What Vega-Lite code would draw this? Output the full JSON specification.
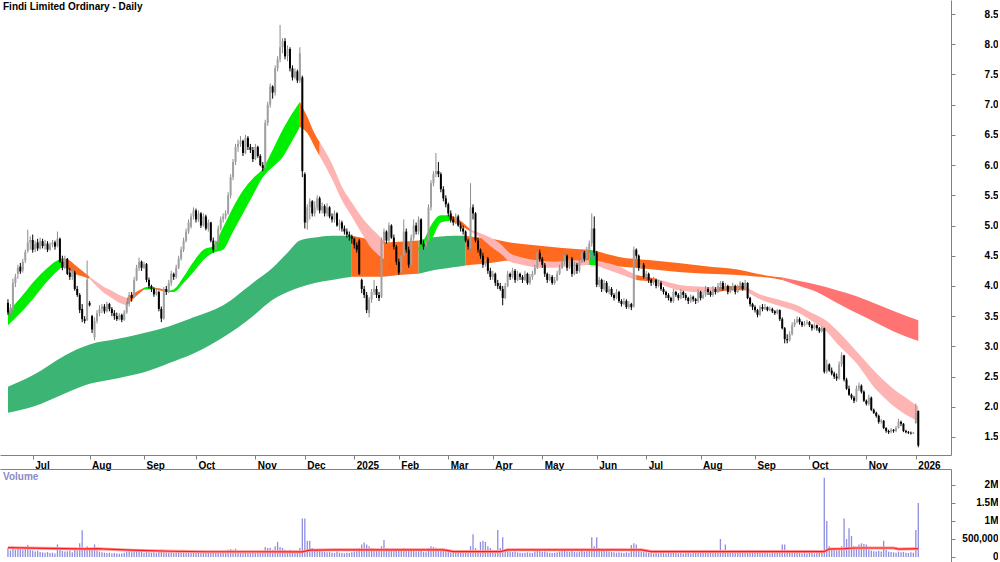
{
"$schema":"https://vega.github.io/schema/vega-lite/v6.json",
"padding":0,
"background":"white",
"spacing":14,
"bounds":"flush",
"config":{"view":{"stroke":null},"font":"Liberation Sans","axis":{"labelFont":"Liberation Sans","labelFontWeight":"bold","labelFontSize":10,"labelColor":"#000000","domainColor":"#808080","tickColor":"#808080","grid":false,"title":null,"labelOverlap":false,"labelBound":false,"labelFlush":false},"axisY":{"labelOverlap":false},"axisRight":{"labelOverlap":false}},
"datasets":{
"p":[
{"i":0,"o":3.72,"h":3.78,"l":3.52,"c":3.56,"v":260},{"i":1,"o":3.56,"h":3.7,"l":3.5,"c":3.64,"v":180},{"i":2,"o":3.6,"h":4.12,"l":3.55,"c":4.05,"v":300},{"i":3,"o":4.05,"h":4.2,"l":3.98,"c":4.15,"v":200},{"i":4,"o":4.2,"h":4.35,"l":4.12,"c":4.3,"v":250},{"i":5,"o":4.32,"h":4.38,"l":4.2,"c":4.24,"v":220},{"i":6,"o":4.26,"h":4.45,"l":4.22,"c":4.4,"v":200},{"i":7,"o":4.42,"h":4.6,"l":4.38,"c":4.56,"v":240},{"i":8,"o":4.58,"h":4.93,"l":4.55,"c":4.72,"v":330},{"i":9,"o":4.72,"h":4.82,"l":4.6,"c":4.76,"v":200},
{"i":10,"o":4.76,"h":4.85,"l":4.55,"c":4.6,"v":180},{"i":11,"o":4.6,"h":4.75,"l":4.56,"c":4.7,"v":150},{"i":12,"o":4.72,"h":4.78,"l":4.58,"c":4.62,"v":170},{"i":13,"o":4.62,"h":4.8,"l":4.6,"c":4.74,"v":140},{"i":14,"o":4.74,"h":4.78,"l":4.62,"c":4.66,"v":130},{"i":15,"o":4.66,"h":4.76,"l":4.6,"c":4.7,"v":120},{"i":16,"o":4.7,"h":4.74,"l":4.56,"c":4.6,"v":140},{"i":17,"o":4.6,"h":4.72,"l":4.58,"c":4.68,"v":110},{"i":18,"o":4.68,"h":4.76,"l":4.64,"c":4.72,"v":120},{"i":19,"o":4.72,"h":4.75,"l":4.6,"c":4.65,"v":100},
{"i":20,"o":4.66,"h":4.9,"l":4.64,"c":4.78,"v":350},{"i":21,"o":4.78,"h":4.8,"l":4.38,"c":4.4,"v":200},{"i":22,"o":4.4,"h":4.5,"l":4.26,"c":4.3,"v":170},{"i":23,"o":4.3,"h":4.5,"l":4.28,"c":4.45,"v":150},{"i":24,"o":4.45,"h":4.46,"l":4.18,"c":4.2,"v":160},{"i":25,"o":4.22,"h":4.3,"l":4.1,"c":4.15,"v":180},{"i":26,"o":4.15,"h":4.3,"l":4.1,"c":4.25,"v":130},{"i":27,"o":4.22,"h":4.25,"l":3.92,"c":3.95,"v":200},{"i":28,"o":3.95,"h":4.0,"l":3.82,"c":3.85,"v":180},{"i":29,"o":3.85,"h":3.88,"l":3.55,"c":3.6,"v":380},
{"i":30,"o":3.62,"h":3.7,"l":3.4,"c":3.45,"v":740},{"i":31,"o":3.45,"h":3.5,"l":3.38,"c":3.42,"v":250},{"i":32,"o":3.44,"h":4.42,"l":3.42,"c":4.1,"v":300},{"i":33,"o":3.72,"h":3.75,"l":3.66,"c":3.68,"v":200},{"i":34,"o":3.5,"h":3.52,"l":3.22,"c":3.28,"v":220},{"i":35,"o":3.15,"h":3.48,"l":3.1,"c":3.42,"v":350},{"i":36,"o":3.42,"h":3.6,"l":3.38,"c":3.55,"v":180},{"i":37,"o":3.55,"h":3.68,"l":3.5,"c":3.62,"v":150},{"i":38,"o":3.62,"h":3.7,"l":3.55,"c":3.66,"v":130},{"i":39,"o":3.66,"h":3.7,"l":3.54,"c":3.58,"v":120},
{"i":40,"o":3.58,"h":3.74,"l":3.56,"c":3.7,"v":110},{"i":41,"o":3.7,"h":3.72,"l":3.58,"c":3.62,"v":120},{"i":42,"o":3.62,"h":3.65,"l":3.5,"c":3.55,"v":100},{"i":43,"o":3.55,"h":3.6,"l":3.44,"c":3.5,"v":110},{"i":44,"o":3.5,"h":3.56,"l":3.42,"c":3.45,"v":100},{"i":45,"o":3.45,"h":3.55,"l":3.43,"c":3.52,"v":90},{"i":46,"o":3.52,"h":3.54,"l":3.4,"c":3.44,"v":100},{"i":47,"o":3.44,"h":3.6,"l":3.42,"c":3.56,"v":120},{"i":48,"o":3.56,"h":3.74,"l":3.54,"c":3.7,"v":140},{"i":49,"o":3.7,"h":3.9,"l":3.66,"c":3.85,"v":150},
{"i":50,"o":3.85,"h":3.9,"l":3.74,"c":3.8,"v":130},{"i":51,"o":3.82,"h":4.15,"l":3.8,"c":4.1,"v":200},{"i":52,"o":4.1,"h":4.35,"l":4.08,"c":4.3,"v":180},{"i":53,"o":4.3,"h":4.47,"l":4.25,"c":4.4,"v":170},{"i":54,"o":4.4,"h":4.42,"l":4.25,"c":4.3,"v":150},{"i":55,"o":4.3,"h":4.4,"l":4.28,"c":4.36,"v":120},{"i":56,"o":4.36,"h":4.38,"l":4.06,"c":4.1,"v":140},{"i":57,"o":4.1,"h":4.14,"l":3.96,"c":4.0,"v":130},{"i":58,"o":4.0,"h":4.02,"l":3.9,"c":3.95,"v":120},{"i":59,"o":3.95,"h":3.98,"l":3.82,"c":3.86,"v":130},
{"i":60,"o":3.86,"h":3.96,"l":3.84,"c":3.92,"v":110},{"i":61,"o":3.9,"h":3.92,"l":3.58,"c":3.62,"v":150},{"i":62,"o":3.62,"h":3.66,"l":3.4,"c":3.46,"v":200},{"i":63,"o":3.46,"h":3.98,"l":3.44,"c":3.95,"v":170},{"i":64,"o":3.95,"h":4.0,"l":3.85,"c":3.9,"v":130},{"i":65,"o":3.9,"h":4.1,"l":3.88,"c":4.05,"v":120},{"i":66,"o":4.05,"h":4.25,"l":4.0,"c":4.2,"v":140},{"i":67,"o":4.2,"h":4.22,"l":4.1,"c":4.15,"v":110},{"i":68,"o":4.15,"h":4.35,"l":4.12,"c":4.3,"v":130},{"i":69,"o":4.3,"h":4.5,"l":4.28,"c":4.45,"v":150},
{"i":70,"o":4.45,"h":4.65,"l":4.42,"c":4.6,"v":160},{"i":71,"o":4.6,"h":4.8,"l":4.56,"c":4.75,"v":200},{"i":72,"o":4.75,"h":4.95,"l":4.72,"c":4.9,"v":180},{"i":73,"o":4.9,"h":5.1,"l":4.86,"c":5.05,"v":170},{"i":74,"o":4.98,"h":5.2,"l":4.95,"c":5.15,"v":150},{"i":75,"o":5.15,"h":5.3,"l":5.1,"c":5.25,"v":160},{"i":76,"o":5.25,"h":5.28,"l":5.05,"c":5.1,"v":130},{"i":77,"o":5.1,"h":5.25,"l":5.06,"c":5.2,"v":140},{"i":78,"o":5.2,"h":5.22,"l":4.96,"c":5.0,"v":120},{"i":79,"o":5.0,"h":5.2,"l":4.98,"c":5.15,"v":130},
{"i":80,"o":5.15,"h":5.18,"l":4.92,"c":4.95,"v":140},{"i":81,"o":4.95,"h":5.1,"l":4.9,"c":5.05,"v":110},{"i":82,"o":5.05,"h":5.06,"l":4.72,"c":4.75,"v":160},{"i":83,"o":4.75,"h":4.8,"l":4.55,"c":4.6,"v":170},{"i":84,"o":4.6,"h":4.75,"l":4.56,"c":4.7,"v":130},{"i":85,"o":4.72,"h":5.0,"l":4.7,"c":4.95,"v":150},{"i":86,"o":4.95,"h":5.15,"l":4.92,"c":5.1,"v":140},{"i":87,"o":5.1,"h":5.2,"l":5.05,"c":5.15,"v":120},{"i":88,"o":5.15,"h":5.25,"l":5.1,"c":5.2,"v":130},{"i":89,"o":5.2,"h":5.55,"l":5.18,"c":5.5,"v":200},
{"i":90,"o":5.5,"h":5.85,"l":5.45,"c":5.8,"v":220},{"i":91,"o":5.8,"h":6.1,"l":5.75,"c":6.05,"v":200},{"i":92,"o":6.05,"h":6.35,"l":6.0,"c":6.3,"v":230},{"i":93,"o":6.3,"h":6.42,"l":6.22,"c":6.35,"v":170},{"i":94,"o":6.35,"h":6.48,"l":6.3,"c":6.4,"v":160},{"i":95,"o":6.4,"h":6.42,"l":6.15,"c":6.2,"v":150},{"i":96,"o":6.2,"h":6.5,"l":6.18,"c":6.45,"v":160},{"i":97,"o":6.45,"h":6.48,"l":6.25,"c":6.3,"v":140},{"i":98,"o":6.3,"h":6.35,"l":6.2,"c":6.25,"v":120},{"i":99,"o":6.25,"h":6.3,"l":6.05,"c":6.1,"v":150},
{"i":100,"o":6.1,"h":6.35,"l":6.08,"c":6.3,"v":130},{"i":101,"o":6.3,"h":6.32,"l":6.12,"c":6.15,"v":120},{"i":102,"o":6.15,"h":6.18,"l":5.98,"c":6.0,"v":140},{"i":103,"o":6.0,"h":6.05,"l":5.9,"c":5.95,"v":160},{"i":104,"o":5.95,"h":6.75,"l":5.92,"c":6.7,"v":280},{"i":105,"o":6.7,"h":7.05,"l":6.65,"c":7.0,"v":250},{"i":106,"o":7.0,"h":7.35,"l":6.95,"c":7.3,"v":260},{"i":107,"o":7.3,"h":7.32,"l":7.1,"c":7.2,"v":200},{"i":108,"o":7.2,"h":7.65,"l":7.15,"c":7.6,"v":300},{"i":109,"o":7.6,"h":7.8,"l":7.55,"c":7.75,"v":420},
{"i":110,"o":7.75,"h":8.32,"l":7.7,"c":7.95,"v":280},{"i":111,"o":7.95,"h":8.1,"l":7.85,"c":8.05,"v":250},{"i":112,"o":8.05,"h":8.1,"l":7.75,"c":7.8,"v":200},{"i":113,"o":7.8,"h":7.98,"l":7.72,"c":7.92,"v":180},{"i":114,"o":7.92,"h":7.95,"l":7.55,"c":7.6,"v":200},{"i":115,"o":7.6,"h":7.65,"l":7.4,"c":7.45,"v":180},{"i":116,"o":7.45,"h":7.6,"l":7.42,"c":7.55,"v":150},{"i":117,"o":7.55,"h":7.58,"l":7.36,"c":7.4,"v":170},{"i":118,"o":7.4,"h":7.95,"l":7.36,"c":7.85,"v":250},{"i":119,"o":7.45,"h":7.48,"l":5.8,"c":5.9,"v":1070},
{"i":120,"o":5.85,"h":5.88,"l":4.95,"c":5.05,"v":1070},{"i":121,"o":5.05,"h":5.35,"l":4.93,"c":5.3,"v":450},{"i":122,"o":5.3,"h":5.45,"l":5.1,"c":5.4,"v":450},{"i":123,"o":5.4,"h":5.42,"l":5.15,"c":5.2,"v":250},{"i":124,"o":5.2,"h":5.4,"l":5.15,"c":5.3,"v":200},{"i":125,"o":5.3,"h":5.5,"l":5.25,"c":5.45,"v":180},{"i":126,"o":5.45,"h":5.48,"l":5.2,"c":5.25,"v":170},{"i":127,"o":5.25,"h":5.38,"l":5.2,"c":5.32,"v":150},{"i":128,"o":5.32,"h":5.35,"l":5.15,"c":5.2,"v":140},{"i":129,"o":5.2,"h":5.37,"l":5.15,"c":5.3,"v":130},
{"i":130,"o":5.3,"h":5.32,"l":5.12,"c":5.15,"v":140},{"i":131,"o":5.15,"h":5.2,"l":5.05,"c":5.1,"v":120},{"i":132,"o":5.1,"h":5.25,"l":5.05,"c":5.2,"v":110},{"i":133,"o":5.2,"h":5.22,"l":4.98,"c":5.0,"v":150},{"i":134,"o":5.0,"h":5.1,"l":4.92,"c":5.05,"v":120},{"i":135,"o":5.05,"h":5.08,"l":4.9,"c":4.95,"v":110},{"i":136,"o":4.95,"h":5.0,"l":4.85,"c":4.9,"v":100},{"i":137,"o":4.9,"h":4.95,"l":4.8,"c":4.85,"v":120},{"i":138,"o":4.85,"h":4.9,"l":4.75,"c":4.82,"v":110},{"i":139,"o":4.82,"h":4.85,"l":4.7,"c":4.78,"v":130},
{"i":140,"o":4.78,"h":4.8,"l":4.62,"c":4.68,"v":150},{"i":141,"o":4.68,"h":4.72,"l":4.55,"c":4.6,"v":160},{"i":142,"o":4.75,"h":4.78,"l":4.18,"c":4.2,"v":250},{"i":143,"o":4.1,"h":4.12,"l":3.88,"c":3.95,"v":350},{"i":144,"o":3.95,"h":4.0,"l":3.8,"c":3.85,"v":400},{"i":145,"o":3.85,"h":3.9,"l":3.55,"c":3.6,"v":350},{"i":146,"o":3.55,"h":3.82,"l":3.48,"c":3.78,"v":300},{"i":147,"o":3.78,"h":3.95,"l":3.72,"c":3.9,"v":250},{"i":148,"o":3.9,"h":4.1,"l":3.85,"c":3.95,"v":200},{"i":149,"o":3.95,"h":4.0,"l":3.8,"c":3.85,"v":180},
{"i":150,"o":3.85,"h":3.9,"l":3.75,"c":3.8,"v":170},{"i":151,"o":3.82,"h":4.8,"l":3.8,"c":4.75,"v":300},{"i":152,"o":4.75,"h":4.95,"l":4.7,"c":4.9,"v":470},{"i":153,"o":4.9,"h":4.92,"l":4.7,"c":4.75,"v":250},{"i":154,"o":4.75,"h":5.05,"l":4.72,"c":5.0,"v":220},{"i":155,"o":5.0,"h":5.02,"l":4.78,"c":4.8,"v":200},{"i":156,"o":4.8,"h":4.85,"l":4.6,"c":4.65,"v":180},{"i":157,"o":4.65,"h":4.68,"l":4.35,"c":4.4,"v":200},{"i":158,"o":4.4,"h":4.45,"l":4.18,"c":4.22,"v":220},{"i":159,"o":4.22,"h":4.55,"l":4.2,"c":4.5,"v":200},
{"i":160,"o":4.5,"h":5.1,"l":4.48,"c":4.9,"v":250},{"i":161,"o":4.9,"h":4.95,"l":4.55,"c":4.6,"v":180},{"i":162,"o":4.6,"h":4.65,"l":4.3,"c":4.35,"v":170},{"i":163,"o":4.35,"h":4.85,"l":4.3,"c":4.8,"v":200},{"i":164,"o":4.8,"h":5.1,"l":4.75,"c":5.0,"v":180},{"i":165,"o":5.0,"h":5.05,"l":4.85,"c":4.9,"v":150},{"i":166,"o":4.9,"h":5.15,"l":4.85,"c":5.1,"v":160},{"i":167,"o":5.1,"h":5.12,"l":4.68,"c":4.7,"v":170},{"i":168,"o":4.7,"h":4.75,"l":4.6,"c":4.65,"v":140},{"i":169,"o":4.65,"h":4.8,"l":4.62,"c":4.75,"v":130},
{"i":170,"o":4.75,"h":5.35,"l":4.72,"c":5.3,"v":250},{"i":171,"o":5.3,"h":5.75,"l":5.25,"c":5.7,"v":300},{"i":172,"o":5.7,"h":5.9,"l":5.65,"c":5.85,"v":280},{"i":173,"o":5.85,"h":6.2,"l":5.8,"c":5.9,"v":260},{"i":174,"o":5.9,"h":6.05,"l":5.8,"c":5.85,"v":200},{"i":175,"o":5.85,"h":5.88,"l":5.55,"c":5.6,"v":220},{"i":176,"o":5.6,"h":5.65,"l":5.4,"c":5.45,"v":200},{"i":177,"o":5.45,"h":5.5,"l":5.3,"c":5.35,"v":180},{"i":178,"o":5.35,"h":5.38,"l":5.15,"c":5.2,"v":170},{"i":179,"o":5.2,"h":5.25,"l":5.05,"c":5.1,"v":150},
{"i":180,"o":5.1,"h":5.15,"l":5.0,"c":5.05,"v":140},{"i":181,"o":5.05,"h":5.2,"l":5.02,"c":5.15,"v":130},{"i":182,"o":5.15,"h":5.18,"l":4.98,"c":5.0,"v":140},{"i":183,"o":5.0,"h":5.05,"l":4.9,"c":4.95,"v":130},{"i":184,"o":4.95,"h":5.0,"l":4.85,"c":4.9,"v":120},{"i":185,"o":4.9,"h":4.92,"l":4.72,"c":4.75,"v":150},{"i":186,"o":4.75,"h":4.78,"l":4.6,"c":4.65,"v":170},{"i":187,"o":4.62,"h":5.7,"l":4.58,"c":5.3,"v":300},{"i":188,"o":5.3,"h":5.35,"l":5.1,"c":5.2,"v":630},{"i":189,"o":5.2,"h":5.22,"l":4.72,"c":4.75,"v":250},
{"i":190,"o":4.75,"h":4.8,"l":4.55,"c":4.6,"v":200},{"i":191,"o":4.6,"h":4.62,"l":4.45,"c":4.5,"v":420},{"i":192,"o":4.5,"h":4.55,"l":4.3,"c":4.35,"v":450},{"i":193,"o":4.35,"h":4.5,"l":4.32,"c":4.45,"v":420},{"i":194,"o":4.45,"h":4.48,"l":4.2,"c":4.25,"v":300},{"i":195,"o":4.25,"h":4.3,"l":4.1,"c":4.15,"v":250},{"i":196,"o":4.15,"h":4.25,"l":4.1,"c":4.2,"v":200},{"i":197,"o":4.2,"h":4.22,"l":4.0,"c":4.05,"v":180},{"i":198,"o":4.05,"h":4.1,"l":3.95,"c":4.0,"v":750},{"i":199,"o":4.0,"h":4.05,"l":3.92,"c":3.95,"v":250},
{"i":200,"o":3.95,"h":4.0,"l":3.68,"c":3.8,"v":550},{"i":201,"o":3.8,"h":4.05,"l":3.78,"c":4.0,"v":220},{"i":202,"o":4.0,"h":4.25,"l":3.98,"c":4.2,"v":200},{"i":203,"o":4.2,"h":4.22,"l":4.1,"c":4.15,"v":150},{"i":204,"o":4.15,"h":4.3,"l":4.12,"c":4.25,"v":140},{"i":205,"o":4.25,"h":4.28,"l":4.05,"c":4.1,"v":150},{"i":206,"o":4.1,"h":4.25,"l":4.08,"c":4.2,"v":130},{"i":207,"o":4.2,"h":4.22,"l":4.1,"c":4.15,"v":120},{"i":208,"o":4.15,"h":4.18,"l":4.05,"c":4.1,"v":110},{"i":209,"o":4.1,"h":4.25,"l":4.08,"c":4.2,"v":120},
{"i":210,"o":4.2,"h":4.22,"l":4.02,"c":4.05,"v":130},{"i":211,"o":4.05,"h":4.2,"l":4.02,"c":4.15,"v":120},{"i":212,"o":4.15,"h":4.25,"l":4.1,"c":4.2,"v":110},{"i":213,"o":4.2,"h":4.35,"l":4.18,"c":4.3,"v":150},{"i":214,"o":4.3,"h":4.63,"l":4.28,"c":4.55,"v":180},{"i":215,"o":4.55,"h":4.6,"l":4.4,"c":4.45,"v":160},{"i":216,"o":4.45,"h":4.48,"l":4.3,"c":4.35,"v":140},{"i":217,"o":4.35,"h":4.38,"l":4.15,"c":4.2,"v":150},{"i":218,"o":4.2,"h":4.22,"l":4.05,"c":4.1,"v":130},{"i":219,"o":4.1,"h":4.2,"l":4.08,"c":4.15,"v":120},
{"i":220,"o":4.15,"h":4.18,"l":4.02,"c":4.05,"v":110},{"i":221,"o":4.05,"h":4.15,"l":4.02,"c":4.1,"v":120},{"i":222,"o":4.1,"h":4.25,"l":4.08,"c":4.2,"v":130},{"i":223,"o":4.2,"h":4.35,"l":4.18,"c":4.3,"v":150},{"i":224,"o":4.3,"h":4.45,"l":4.28,"c":4.4,"v":160},{"i":225,"o":4.4,"h":4.55,"l":4.35,"c":4.5,"v":180},{"i":226,"o":4.5,"h":4.52,"l":4.25,"c":4.3,"v":150},{"i":227,"o":4.3,"h":4.5,"l":4.28,"c":4.45,"v":140},{"i":228,"o":4.45,"h":4.48,"l":4.15,"c":4.2,"v":160},{"i":229,"o":4.2,"h":4.4,"l":4.18,"c":4.35,"v":140},
{"i":230,"o":4.35,"h":4.38,"l":4.2,"c":4.25,"v":130},{"i":231,"o":4.25,"h":4.45,"l":4.22,"c":4.4,"v":150},{"i":232,"o":4.4,"h":4.6,"l":4.38,"c":4.55,"v":170},{"i":233,"o":4.55,"h":4.58,"l":4.4,"c":4.45,"v":150},{"i":234,"o":4.45,"h":4.65,"l":4.42,"c":4.6,"v":160},{"i":235,"o":4.6,"h":4.75,"l":4.55,"c":4.7,"v":200},{"i":236,"o":4.7,"h":5.2,"l":4.65,"c":4.95,"v":550},{"i":237,"o":4.95,"h":5.15,"l":4.5,"c":4.55,"v":300},{"i":238,"o":4.55,"h":4.58,"l":3.98,"c":4.02,"v":550},{"i":239,"o":4.02,"h":4.15,"l":3.98,"c":4.1,"v":250},
{"i":240,"o":4.1,"h":4.12,"l":3.9,"c":3.95,"v":200},{"i":241,"o":3.95,"h":4.1,"l":3.92,"c":4.05,"v":180},{"i":242,"o":4.05,"h":4.08,"l":3.88,"c":3.9,"v":160},{"i":243,"o":3.9,"h":4.0,"l":3.86,"c":3.95,"v":150},{"i":244,"o":3.95,"h":3.98,"l":3.82,"c":3.85,"v":140},{"i":245,"o":3.85,"h":3.88,"l":3.76,"c":3.8,"v":130},{"i":246,"o":3.8,"h":3.95,"l":3.78,"c":3.9,"v":120},{"i":247,"o":3.9,"h":3.92,"l":3.72,"c":3.75,"v":130},{"i":248,"o":3.75,"h":3.78,"l":3.66,"c":3.7,"v":120},{"i":249,"o":3.7,"h":3.8,"l":3.68,"c":3.75,"v":110},
{"i":250,"o":3.75,"h":3.78,"l":3.62,"c":3.65,"v":130},{"i":251,"o":3.65,"h":3.75,"l":3.62,"c":3.7,"v":120},{"i":252,"o":3.7,"h":3.72,"l":3.6,"c":3.65,"v":330},{"i":253,"o":3.66,"h":4.65,"l":3.64,"c":4.6,"v":380},{"i":254,"o":4.6,"h":4.62,"l":4.45,"c":4.5,"v":350},{"i":255,"o":4.5,"h":4.52,"l":4.25,"c":4.3,"v":200},{"i":256,"o":4.3,"h":4.4,"l":4.28,"c":4.35,"v":150},{"i":257,"o":4.35,"h":4.38,"l":4.12,"c":4.15,"v":140},{"i":258,"o":4.15,"h":4.25,"l":4.12,"c":4.2,"v":130},{"i":259,"o":4.2,"h":4.22,"l":4.05,"c":4.1,"v":120},
{"i":260,"o":4.1,"h":4.12,"l":4.0,"c":4.05,"v":110},{"i":261,"o":4.05,"h":4.15,"l":4.02,"c":4.1,"v":100},{"i":262,"o":4.1,"h":4.12,"l":3.96,"c":4.0,"v":110},{"i":263,"o":4.0,"h":4.1,"l":3.98,"c":4.05,"v":100},{"i":264,"o":4.05,"h":4.08,"l":3.92,"c":3.95,"v":120},{"i":265,"o":3.95,"h":3.98,"l":3.86,"c":3.9,"v":110},{"i":266,"o":3.9,"h":3.92,"l":3.8,"c":3.85,"v":100},{"i":267,"o":3.85,"h":3.88,"l":3.76,"c":3.8,"v":110},{"i":268,"o":3.8,"h":3.82,"l":3.72,"c":3.75,"v":120},{"i":269,"o":3.75,"h":3.95,"l":3.72,"c":3.9,"v":130},
{"i":270,"o":3.9,"h":3.92,"l":3.82,"c":3.85,"v":110},{"i":271,"o":3.85,"h":3.88,"l":3.76,"c":3.8,"v":100},{"i":272,"o":3.8,"h":3.95,"l":3.78,"c":3.9,"v":110},{"i":273,"o":3.9,"h":3.92,"l":3.8,"c":3.85,"v":100},{"i":274,"o":3.85,"h":3.88,"l":3.76,"c":3.8,"v":120},{"i":275,"o":3.8,"h":3.82,"l":3.7,"c":3.75,"v":110},{"i":276,"o":3.75,"h":3.86,"l":3.72,"c":3.82,"v":100},{"i":277,"o":3.82,"h":3.84,"l":3.74,"c":3.78,"v":110},{"i":278,"o":3.78,"h":3.8,"l":3.7,"c":3.75,"v":120},{"i":279,"o":3.75,"h":3.95,"l":3.72,"c":3.9,"v":130},
{"i":280,"o":3.9,"h":3.92,"l":3.76,"c":3.8,"v":150},{"i":281,"o":3.8,"h":3.9,"l":3.78,"c":3.85,"v":180},{"i":282,"o":3.85,"h":4.0,"l":3.82,"c":3.95,"v":200},{"i":283,"o":3.95,"h":3.98,"l":3.85,"c":3.9,"v":180},{"i":284,"o":3.9,"h":3.92,"l":3.82,"c":3.85,"v":160},{"i":285,"o":3.85,"h":4.0,"l":3.82,"c":3.95,"v":150},{"i":286,"o":3.95,"h":3.98,"l":3.86,"c":3.9,"v":140},{"i":287,"o":3.9,"h":4.05,"l":3.88,"c":4.0,"v":170},{"i":288,"o":4.0,"h":4.08,"l":3.95,"c":4.05,"v":500},{"i":289,"o":4.05,"h":4.08,"l":3.92,"c":3.95,"v":200},
{"i":290,"o":3.95,"h":4.05,"l":3.92,"c":4.0,"v":350},{"i":291,"o":4.0,"h":4.02,"l":3.86,"c":3.9,"v":150},{"i":292,"o":3.9,"h":4.0,"l":3.88,"c":3.95,"v":140},{"i":293,"o":3.95,"h":4.05,"l":3.92,"c":4.0,"v":130},{"i":294,"o":4.0,"h":4.02,"l":3.86,"c":3.9,"v":140},{"i":295,"o":3.9,"h":4.02,"l":3.88,"c":4.0,"v":130},{"i":296,"o":4.0,"h":4.08,"l":3.98,"c":4.05,"v":140},{"i":297,"o":4.05,"h":4.06,"l":3.92,"c":3.95,"v":150},{"i":298,"o":3.95,"h":4.1,"l":3.93,"c":4.05,"v":160},{"i":299,"o":4.05,"h":4.06,"l":3.78,"c":3.8,"v":200},
{"i":300,"o":3.8,"h":3.82,"l":3.66,"c":3.7,"v":170},{"i":301,"o":3.7,"h":3.72,"l":3.6,"c":3.65,"v":150},{"i":302,"o":3.65,"h":3.68,"l":3.56,"c":3.6,"v":140},{"i":303,"o":3.6,"h":3.62,"l":3.48,"c":3.52,"v":150},{"i":304,"o":3.52,"h":3.68,"l":3.5,"c":3.65,"v":140},{"i":305,"o":3.65,"h":3.7,"l":3.58,"c":3.62,"v":130},{"i":306,"o":3.62,"h":3.7,"l":3.6,"c":3.65,"v":120},{"i":307,"o":3.65,"h":3.66,"l":3.58,"c":3.6,"v":110},{"i":308,"o":3.6,"h":3.66,"l":3.58,"c":3.62,"v":100},{"i":309,"o":3.62,"h":3.64,"l":3.55,"c":3.58,"v":110},
{"i":310,"o":3.58,"h":3.6,"l":3.52,"c":3.55,"v":120},{"i":311,"o":3.55,"h":3.62,"l":3.53,"c":3.6,"v":110},{"i":312,"o":3.6,"h":3.61,"l":3.42,"c":3.45,"v":150},{"i":313,"o":3.45,"h":3.48,"l":3.28,"c":3.3,"v":350},{"i":314,"o":3.3,"h":3.32,"l":3.05,"c":3.12,"v":350},{"i":315,"o":3.12,"h":3.2,"l":3.05,"c":3.1,"v":200},{"i":316,"o":3.1,"h":3.25,"l":3.08,"c":3.2,"v":150},{"i":317,"o":3.2,"h":3.4,"l":3.18,"c":3.35,"v":140},{"i":318,"o":3.35,"h":3.45,"l":3.32,"c":3.4,"v":130},{"i":319,"o":3.4,"h":3.5,"l":3.38,"c":3.45,"v":120},
{"i":320,"o":3.45,"h":3.48,"l":3.36,"c":3.4,"v":110},{"i":321,"o":3.4,"h":3.42,"l":3.32,"c":3.35,"v":100},{"i":322,"o":3.35,"h":3.42,"l":3.33,"c":3.38,"v":110},{"i":323,"o":3.38,"h":3.44,"l":3.36,"c":3.4,"v":100},{"i":324,"o":3.4,"h":3.42,"l":3.32,"c":3.35,"v":120},{"i":325,"o":3.35,"h":3.37,"l":3.26,"c":3.3,"v":110},{"i":326,"o":3.3,"h":3.38,"l":3.28,"c":3.35,"v":100},{"i":327,"o":3.35,"h":3.36,"l":3.26,"c":3.3,"v":120},{"i":328,"o":3.3,"h":3.32,"l":3.22,"c":3.25,"v":150},{"i":329,"o":3.25,"h":3.33,"l":3.23,"c":3.3,"v":180},
{"i":330,"o":3.3,"h":3.31,"l":2.55,"c":2.58,"v":2200},{"i":331,"o":2.58,"h":2.78,"l":2.55,"c":2.7,"v":1000},{"i":332,"o":2.7,"h":2.72,"l":2.58,"c":2.6,"v":300},{"i":333,"o":2.6,"h":2.65,"l":2.52,"c":2.55,"v":250},{"i":334,"o":2.55,"h":2.58,"l":2.46,"c":2.5,"v":200},{"i":335,"o":2.5,"h":2.55,"l":2.43,"c":2.47,"v":180},{"i":336,"o":2.47,"h":2.75,"l":2.45,"c":2.7,"v":250},{"i":337,"o":2.7,"h":2.9,"l":2.66,"c":2.85,"v":300},{"i":338,"o":2.85,"h":2.86,"l":2.42,"c":2.45,"v":1070},{"i":339,"o":2.45,"h":2.48,"l":2.28,"c":2.3,"v":500},
{"i":340,"o":2.3,"h":2.35,"l":2.18,"c":2.2,"v":800},{"i":341,"o":2.2,"h":2.22,"l":2.12,"c":2.15,"v":580},{"i":342,"o":2.15,"h":2.18,"l":2.06,"c":2.1,"v":300},{"i":343,"o":2.1,"h":2.35,"l":2.08,"c":2.3,"v":250},{"i":344,"o":2.3,"h":2.4,"l":2.26,"c":2.35,"v":350},{"i":345,"o":2.35,"h":2.37,"l":2.22,"c":2.25,"v":380},{"i":346,"o":2.25,"h":2.27,"l":2.08,"c":2.1,"v":360},{"i":347,"o":2.1,"h":2.12,"l":2.02,"c":2.05,"v":350},{"i":348,"o":2.05,"h":2.2,"l":2.02,"c":2.15,"v":200},{"i":349,"o":2.15,"h":2.17,"l":1.93,"c":1.95,"v":180},
{"i":350,"o":1.95,"h":1.97,"l":1.88,"c":1.9,"v":160},{"i":351,"o":1.9,"h":1.92,"l":1.82,"c":1.85,"v":150},{"i":352,"o":1.85,"h":1.87,"l":1.72,"c":1.75,"v":170},{"i":353,"o":1.75,"h":1.8,"l":1.72,"c":1.77,"v":150},{"i":354,"o":1.77,"h":1.78,"l":1.63,"c":1.65,"v":450},{"i":355,"o":1.65,"h":1.66,"l":1.57,"c":1.6,"v":200},{"i":356,"o":1.6,"h":1.62,"l":1.55,"c":1.58,"v":150},{"i":357,"o":1.58,"h":1.65,"l":1.56,"c":1.62,"v":140},{"i":358,"o":1.62,"h":1.63,"l":1.57,"c":1.6,"v":130},{"i":359,"o":1.6,"h":1.68,"l":1.58,"c":1.65,"v":120},
{"i":360,"o":1.65,"h":1.8,"l":1.64,"c":1.75,"v":150},{"i":361,"o":1.75,"h":1.77,"l":1.68,"c":1.72,"v":130},{"i":362,"o":1.72,"h":1.73,"l":1.58,"c":1.6,"v":140},{"i":363,"o":1.6,"h":1.62,"l":1.56,"c":1.58,"v":120},{"i":364,"o":1.58,"h":1.6,"l":1.55,"c":1.57,"v":110},{"i":365,"o":1.57,"h":1.59,"l":1.54,"c":1.56,"v":130},{"i":366,"o":1.56,"h":1.58,"l":1.55,"c":1.575,"v":120},{"i":367,"o":1.73,"h":2.05,"l":1.72,"c":1.9,"v":750},{"i":368,"o":1.93,"h":1.94,"l":1.33,"c":1.36,"v":1500}
],
"s":[
{"i":0,"a":3.57,"b":3.35,"k":"lu","g":1},{"i":5,"a":3.8,"b":3.55,"k":"lu","g":1},{"i":11,"a":4.1,"b":3.83,"k":"lu","g":1},{"i":16,"a":4.3,"b":4.08,"k":"lu","g":1},{"i":19,"a":4.4,"b":4.21,"k":"lu","g":1},{"i":22,"a":4.46,"b":4.32,"k":"lu","g":1},
{"i":22,"a":4.46,"b":4.32,"k":"lo","g":2},{"i":25,"a":4.42,"b":4.26,"k":"lo","g":2},{"i":27,"a":4.35,"b":4.2,"k":"lo","g":2},{"i":30,"a":4.25,"b":4.16,"k":"lo","g":2},{"i":33,"a":4.15,"b":4.12,"k":"lo","g":2},
{"i":33,"a":4.15,"b":4.12,"k":"lp","g":3},{"i":36,"a":4.06,"b":3.99,"k":"lp","g":3},{"i":39,"a":3.98,"b":3.88,"k":"lp","g":3},{"i":42,"a":3.92,"b":3.8,"k":"lp","g":3},{"i":45,"a":3.85,"b":3.72,"k":"lp","g":3},{"i":48,"a":3.8,"b":3.68,"k":"lp","g":3},
{"i":48,"a":3.8,"b":3.68,"k":"lo","g":4},{"i":51,"a":3.88,"b":3.8,"k":"lo","g":4},{"i":55,"a":3.97,"b":3.94,"k":"lo","g":4},
{"i":55,"a":3.97,"b":3.94,"k":"lu","g":5},{"i":57,"a":3.99,"b":3.94,"k":"lu","g":5},{"i":59,"a":3.97,"b":3.95,"k":"lu","g":5},
{"i":59,"a":3.97,"b":3.95,"k":"lo","g":6},{"i":61,"a":3.96,"b":3.93,"k":"lo","g":6},{"i":65,"a":3.92,"b":3.9,"k":"lo","g":6},
{"i":65,"a":3.92,"b":3.9,"k":"lu","g":7},{"i":67,"a":3.94,"b":3.9,"k":"lu","g":7},{"i":71,"a":4.15,"b":4.05,"k":"lu","g":7},{"i":75,"a":4.4,"b":4.23,"k":"lu","g":7},{"i":79,"a":4.6,"b":4.43,"k":"lu","g":7},{"i":83,"a":4.66,"b":4.55,"k":"lu","g":7},{"i":87,"a":4.97,"b":4.6,"k":"lu","g":7},{"i":91,"a":5.3,"b":4.9,"k":"lu","g":7},{"i":95,"a":5.58,"b":5.2,"k":"lu","g":7},{"i":99,"a":5.78,"b":5.5,"k":"lu","g":7},{"i":103,"a":5.94,"b":5.8,"k":"lu","g":7},{"i":107,"a":6.25,"b":5.97,"k":"lu","g":7},{"i":111,"a":6.58,"b":6.13,"k":"lu","g":7},{"i":115,"a":6.86,"b":6.41,"k":"lu","g":7},{"i":118,"a":7.05,"b":6.63,"k":"lu","g":7},
{"i":118,"a":7.05,"b":6.63,"k":"lo","g":8},{"i":121,"a":6.8,"b":6.53,"k":"lo","g":8},{"i":124,"a":6.52,"b":6.3,"k":"lo","g":8},{"i":126,"a":6.38,"b":6.15,"k":"lo","g":8},
{"i":126,"a":6.38,"b":6.15,"k":"lp","g":9},{"i":131,"a":6.02,"b":5.77,"k":"lp","g":9},{"i":135,"a":5.64,"b":5.42,"k":"lp","g":9},{"i":139,"a":5.38,"b":5.15,"k":"lp","g":9},{"i":143,"a":5.14,"b":4.87,"k":"lp","g":9},{"i":147,"a":4.95,"b":4.62,"k":"lp","g":9},{"i":149,"a":4.87,"b":4.54,"k":"lp","g":9},{"i":152,"a":4.74,"b":4.44,"k":"lp","g":9},
{"i":152,"a":4.74,"b":4.44,"k":"lo","g":10},{"i":156,"a":4.65,"b":4.45,"k":"lo","g":10},{"i":160,"a":4.6,"b":4.48,"k":"lo","g":10},{"i":164,"a":4.62,"b":4.55,"k":"lo","g":10},{"i":166,"a":4.64,"b":4.6,"k":"lo","g":10},
{"i":166,"a":4.64,"b":4.6,"k":"lu","g":11},{"i":168,"a":4.75,"b":4.66,"k":"lu","g":11},{"i":171,"a":5.0,"b":4.75,"k":"lu","g":11},{"i":175,"a":5.17,"b":5.05,"k":"lu","g":11},{"i":179,"a":5.17,"b":5.08,"k":"lu","g":11},
{"i":179,"a":5.17,"b":5.08,"k":"lo","g":12},{"i":183,"a":5.08,"b":5.0,"k":"lo","g":12},{"i":187,"a":4.93,"b":4.9,"k":"lo","g":12},
{"i":187,"a":4.93,"b":4.9,"k":"lp","g":13},{"i":191,"a":4.87,"b":4.8,"k":"lp","g":13},{"i":195,"a":4.8,"b":4.66,"k":"lp","g":13},{"i":199,"a":4.7,"b":4.54,"k":"lp","g":13},{"i":203,"a":4.54,"b":4.4,"k":"lp","g":13},{"i":207,"a":4.48,"b":4.36,"k":"lp","g":13},{"i":211,"a":4.44,"b":4.32,"k":"lp","g":13},{"i":215,"a":4.42,"b":4.3,"k":"lp","g":13},{"i":221,"a":4.4,"b":4.3,"k":"lp","g":13},{"i":227,"a":4.42,"b":4.32,"k":"lp","g":13},{"i":235,"a":4.43,"b":4.35,"k":"lp","g":13},
{"i":235,"a":4.43,"b":4.35,"k":"lu","g":14},{"i":238,"a":4.42,"b":4.34,"k":"lu","g":14},
{"i":238,"a":4.42,"b":4.34,"k":"lp","g":15},{"i":243,"a":4.37,"b":4.26,"k":"lp","g":15},{"i":247,"a":4.32,"b":4.2,"k":"lp","g":15},{"i":251,"a":4.24,"b":4.14,"k":"lp","g":15},{"i":254,"a":4.18,"b":4.1,"k":"lp","g":15},
{"i":254,"a":4.18,"b":4.1,"k":"lo","g":16},{"i":258,"a":4.15,"b":4.08,"k":"lo","g":16},{"i":262,"a":4.12,"b":4.06,"k":"lo","g":16},
{"i":262,"a":4.12,"b":4.06,"k":"lp","g":17},{"i":267,"a":4.06,"b":3.98,"k":"lp","g":17},{"i":271,"a":4.02,"b":3.93,"k":"lp","g":17},{"i":279,"a":3.99,"b":3.9,"k":"lp","g":17},{"i":287,"a":3.98,"b":3.9,"k":"lp","g":17},
{"i":287,"a":3.98,"b":3.9,"k":"lo","g":18},{"i":292,"a":4.0,"b":3.93,"k":"lo","g":18},{"i":298,"a":4.0,"b":3.93,"k":"lo","g":18},
{"i":298,"a":4.0,"b":3.93,"k":"lp","g":19},{"i":303,"a":3.88,"b":3.8,"k":"lp","g":19},{"i":311,"a":3.78,"b":3.68,"k":"lp","g":19},{"i":319,"a":3.68,"b":3.57,"k":"lp","g":19},{"i":325,"a":3.55,"b":3.42,"k":"lp","g":19},{"i":331,"a":3.42,"b":3.24,"k":"lp","g":19},{"i":335,"a":3.27,"b":3.05,"k":"lp","g":19},{"i":343,"a":2.92,"b":2.72,"k":"lp","g":19},{"i":351,"a":2.56,"b":2.28,"k":"lp","g":19},{"i":355,"a":2.4,"b":2.12,"k":"lp","g":19},{"i":359,"a":2.26,"b":1.98,"k":"lp","g":19},{"i":363,"a":2.15,"b":1.87,"k":"lp","g":19},{"i":368,"a":2.0,"b":1.76,"k":"lp","g":19}
],
"l":[
{"i":0,"a":2.33,"b":1.9,"k":"gu","g":1},{"i":10,"a":2.52,"b":2.0,"k":"gu","g":1},{"i":23,"a":2.85,"b":2.22,"k":"gu","g":1},{"i":33,"a":3.03,"b":2.38,"k":"gu","g":1},{"i":44,"a":3.12,"b":2.47,"k":"gu","g":1},{"i":55,"a":3.22,"b":2.57,"k":"gu","g":1},{"i":65,"a":3.33,"b":2.72,"k":"gu","g":1},{"i":75,"a":3.48,"b":2.88,"k":"gu","g":1},{"i":87,"a":3.68,"b":3.15,"k":"gu","g":1},{"i":99,"a":4.05,"b":3.5,"k":"gu","g":1},{"i":107,"a":4.3,"b":3.77,"k":"gu","g":1},{"i":113,"a":4.55,"b":3.9,"k":"gu","g":1},{"i":118,"a":4.75,"b":3.98,"k":"gu","g":1},{"i":124,"a":4.8,"b":4.05,"k":"gu","g":1},{"i":131,"a":4.83,"b":4.1,"k":"gu","g":1},{"i":139,"a":4.83,"b":4.15,"k":"gu","g":1},
{"i":139,"a":4.83,"b":4.15,"k":"go","g":2},{"i":145,"a":4.78,"b":4.15,"k":"go","g":2},{"i":151,"a":4.72,"b":4.15,"k":"go","g":2},{"i":158,"a":4.73,"b":4.18,"k":"go","g":2},{"i":166,"a":4.75,"b":4.2,"k":"go","g":2},
{"i":166,"a":4.75,"b":4.2,"k":"gu","g":3},{"i":171,"a":4.8,"b":4.25,"k":"gu","g":3},{"i":175,"a":4.82,"b":4.28,"k":"gu","g":3},{"i":180,"a":4.83,"b":4.31,"k":"gu","g":3},{"i":185,"a":4.83,"b":4.34,"k":"gu","g":3},
{"i":185,"a":4.83,"b":4.34,"k":"go","g":4},{"i":190,"a":4.8,"b":4.36,"k":"go","g":4},{"i":195,"a":4.78,"b":4.38,"k":"go","g":4},{"i":203,"a":4.72,"b":4.42,"k":"go","g":4},{"i":211,"a":4.68,"b":4.4,"k":"go","g":4},{"i":219,"a":4.65,"b":4.38,"k":"go","g":4},{"i":227,"a":4.62,"b":4.37,"k":"go","g":4},{"i":235,"a":4.6,"b":4.35,"k":"go","g":4},
{"i":235,"a":4.6,"b":4.35,"k":"gu","g":5},{"i":238,"a":4.58,"b":4.35,"k":"gu","g":5},
{"i":238,"a":4.58,"b":4.35,"k":"go","g":6},{"i":247,"a":4.48,"b":4.32,"k":"go","g":6},{"i":259,"a":4.43,"b":4.28,"k":"go","g":6},{"i":271,"a":4.38,"b":4.23,"k":"go","g":6},{"i":283,"a":4.32,"b":4.2,"k":"go","g":6},{"i":295,"a":4.27,"b":4.18,"k":"go","g":6},{"i":301,"a":4.22,"b":4.16,"k":"go","g":6},{"i":307,"a":4.17,"b":4.14,"k":"go","g":6},{"i":313,"a":4.14,"b":4.1,"k":"go","g":6},
{"i":313,"a":4.14,"b":4.1,"k":"gr","g":7},{"i":320,"a":4.08,"b":4.0,"k":"gr","g":7},{"i":327,"a":4.02,"b":3.9,"k":"gr","g":7},{"i":335,"a":3.93,"b":3.72,"k":"gr","g":7},{"i":343,"a":3.83,"b":3.55,"k":"gr","g":7},{"i":351,"a":3.7,"b":3.39,"k":"gr","g":7},{"i":359,"a":3.57,"b":3.23,"k":"gr","g":7},{"i":368,"a":3.43,"b":3.09,"k":"gr","g":7}
],
"m":[
{"i":0,"m":260},{"i":15,"m":240},{"i":30,"m":225},{"i":36,"m":230},{"i":50,"m":190},{"i":66,"m":160},{"i":80,"m":145},{"i":119,"m":145},{"i":122,"m":190},{"i":132,"m":200},{"i":176,"m":200},{"i":180,"m":150},{"i":199,"m":150},{"i":202,"m":200},{"i":256,"m":200},{"i":260,"m":150},{"i":279,"m":150},{"i":300,"m":150},{"i":330,"m":150},{"i":332,"m":220},{"i":338,"m":230},{"i":342,"m":250},{"i":358,"m":250},{"i":360,"m":220},{"i":368,"m":230}
]
},
"vconcat":[
{
"width":951,"height":455,
"title":{"text":"Findi Limited Ordinary - Daily","anchor":"start","offset":-12,"fontSize":10,"fontWeight":"bold","font":"Liberation Sans","color":"#000000","dx":3},
"encoding":{"x":{"field":"i","type":"quantitative","scale":{"domain":[-1.2,379.2],"nice":false,"zero":false},"axis":{"orient":"bottom","values":[10,33,55,76,100,120,140,158,178,196,216,238,258,280,302,324,347,367],"labelExpr":"['Jul','Aug','Sep','Oct','Nov','Dec','2025','Feb','Mar','Apr','May','Jun','Jul','Aug','Sep','Oct','Nov','2026'][indexof([10,33,55,76,100,120,140,158,178,196,216,238,258,280,302,324,347,367], datum.value)]","labelAlign":"left","labelOffset":2,"labelPadding":1,"tickSize":4,"labelOverlap":false,"labelFlush":false,"labelBound":false}}},
"layer":[
{"data":{"name":"l"},"mark":{"type":"area","interpolate":"monotone"},"encoding":{"y":{"field":"a","type":"quantitative","scale":{"domain":[1.202,8.732],"nice":false,"zero":false},"axis":{"orient":"right","values":[1.5,2,2.5,3,3.5,4,4.5,5,5.5,6,6.5,7,7.5,8,8.5],"format":".1f","tickSize":4,"labelAlign":"right","labelPadding":43,"labelOverlap":false,"labelBound":false,"labelFlush":false}},"y2":{"field":"b"},"color":{"field":"k","type":"nominal","scale":{"domain":["lu","lo","lp","gu","go","gr"],"range":["#00ee00","#ff6a1f","#ffb4b4","#3cb473","#ff6a1f","#ff7373"]},"legend":null},"detail":{"field":"g"}}},
{"data":{"name":"s"},"mark":{"type":"area","interpolate":"monotone"},"encoding":{"y":{"field":"a","type":"quantitative","scale":{"domain":[1.202,8.732],"nice":false,"zero":false},"axis":{"orient":"right","values":[1.5,2,2.5,3,3.5,4,4.5,5,5.5,6,6.5,7,7.5,8,8.5],"format":".1f","tickSize":4,"labelAlign":"right","labelPadding":43,"labelOverlap":false,"labelBound":false,"labelFlush":false}},"y2":{"field":"b"},"color":{"field":"k","type":"nominal","scale":{"domain":["lu","lo","lp","gu","go","gr"],"range":["#00ee00","#ff6a1f","#ffb4b4","#3cb473","#ff6a1f","#ff7373"]},"legend":null},"detail":{"field":"g"}}},
{"data":{"name":"p"},"mark":{"type":"rule","strokeWidth":1},"encoding":{"y":{"field":"l","type":"quantitative","scale":{"domain":[1.202,8.732],"nice":false,"zero":false},"axis":{"orient":"right","values":[1.5,2,2.5,3,3.5,4,4.5,5,5.5,6,6.5,7,7.5,8,8.5],"format":".1f","tickSize":4,"labelAlign":"right","labelPadding":43,"labelOverlap":false,"labelBound":false,"labelFlush":false}},"y2":{"field":"h"},"color":{"condition":{"test":"datum.c < datum.o","value":"#000000"},"value":"#8c8c8c"}}},
{"data":{"name":"p"},"mark":{"type":"bar","size":2},"encoding":{"y":{"field":"o","type":"quantitative","scale":{"domain":[1.202,8.732],"nice":false,"zero":false},"axis":{"orient":"right","values":[1.5,2,2.5,3,3.5,4,4.5,5,5.5,6,6.5,7,7.5,8,8.5],"format":".1f","tickSize":4,"labelAlign":"right","labelPadding":43,"labelOverlap":false,"labelBound":false,"labelFlush":false}},"y2":{"field":"c"},"color":{"condition":{"test":"datum.c < datum.o","value":"#000000"},"value":"#a0a0a0"}}}
]
},
{
"width":951,"height":93,
"title":{"text":"Volume","anchor":"start","offset":-13,"fontSize":10,"fontWeight":"bold","font":"Liberation Sans","color":"#8a8ac8","dx":3},
"encoding":{"x":{"field":"i","type":"quantitative","scale":{"domain":[-1.2,379.2],"nice":false,"zero":false},"axis":{"orient":"top","labels":false,"ticks":false,"domain":true}}},
"layer":[
{"data":{"name":"p"},"mark":{"type":"bar","size":1.3,"color":"#8e8ee0"},"encoding":{"y":{"field":"v","type":"quantitative","scale":{"domain":[-139,2444],"nice":false,"zero":false},"axis":{"orient":"right","values":[0,500,1000,1500,2000],"labelExpr":"datum.value == 0 ? '0' : datum.value == 500 ? '500,000' : (datum.value/1000) + 'M'","tickSize":4,"labelAlign":"right","labelPadding":43,"labelOverlap":false,"labelBound":false,"labelFlush":false}},"y2":{"datum":0}}},
{"data":{"name":"m"},"mark":{"type":"line","color":"#ff9a9a","strokeWidth":3},"encoding":{"y":{"field":"m","type":"quantitative","scale":{"domain":[-139,2444],"nice":false,"zero":false},"axis":{"orient":"right","values":[0,500,1000,1500,2000],"labelExpr":"datum.value == 0 ? '0' : datum.value == 500 ? '500,000' : (datum.value/1000) + 'M'","tickSize":4,"labelAlign":"right","labelPadding":43,"labelOverlap":false,"labelBound":false,"labelFlush":false}}}},
{"data":{"name":"m"},"mark":{"type":"line","color":"#ff1a1a","strokeWidth":1.2},"encoding":{"y":{"field":"m","type":"quantitative","scale":{"domain":[-139,2444],"nice":false,"zero":false},"axis":{"orient":"right","values":[0,500,1000,1500,2000],"labelExpr":"datum.value == 0 ? '0' : datum.value == 500 ? '500,000' : (datum.value/1000) + 'M'","tickSize":4,"labelAlign":"right","labelPadding":43,"labelOverlap":false,"labelBound":false,"labelFlush":false}}}}
]
}
]
}
